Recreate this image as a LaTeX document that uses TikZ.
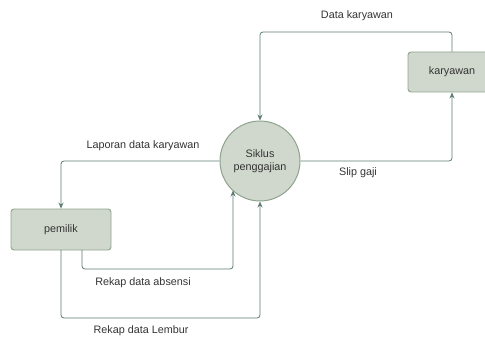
\documentclass[tikz,border=0pt]{standalone}
\usepackage{fontspec}
\setmainfont{Liberation Sans}
\usetikzlibrary{arrows.meta}
\definecolor{boxfill}{HTML}{D0D8CD}
\definecolor{boxline}{HTML}{8FA38E}
\definecolor{flow}{HTML}{5E7B73}
\definecolor{txt}{HTML}{333333}
\tikzset{
  entity/.style={draw=boxline, fill=boxfill, rounded corners=3pt, line width=0.9pt,
    minimum width=100pt, minimum height=41pt, inner sep=0pt, text=txt, font=\fontsize{10.8}{13}\selectfont},
  process/.style={circle, draw=boxline, fill=boxfill, line width=1pt, minimum size=80pt,
    inner sep=0pt, align=center, text=txt, font=\fontsize{10.8}{13}\selectfont},
  flowline/.style={draw=flow, line width=0.8pt, rounded corners=3pt, -{Stealth[length=6pt,width=5pt]}},
  lbl/.style={text=txt, font=\fontsize{10.8}{13}\selectfont, inner sep=0pt}
}
\begin{document}
\begin{tikzpicture}[x=1pt, y=-1pt]
\useasboundingbox (0,0) rectangle (485,337);
\node[process] (proc) at (260,161) {Siklus\\penggajian};
\node[entity] (own) at (61,229.5) {pemilik};
\node[entity, minimum width=88pt, minimum height=40pt] (emp) at (452,72) {karyawan};

\coordinate (d1) at (452,32);
\coordinate (d2) at (260,32);
\draw[flowline] (emp.north) -- (d1) -- (d2) -- (proc.north);
\node[lbl] (ldata) at (357,16) {Data karyawan};

\coordinate (s1) at (452,161);
\draw[flowline] (proc.east) -- (s1) -- (emp.south);
\node[lbl] (lslip) at (358,173) {Slip gaji};

\coordinate (l1) at (61,161);
\draw[flowline] (proc.west) -- (l1) -- (own.north);
\node[lbl] (llap) at (143,146) {Laporan data karyawan};

\coordinate (a0) at (82,250);
\coordinate (a1) at (82,269);
\coordinate (a2) at (233,269);
\coordinate (a3) at (233,190.5);
\draw[flowline] (a0) -- (a1) -- (a2) -- (a3);
\node[lbl] (labs) at (143,283) {Rekap data absensi};

\coordinate (b0) at (61,250);
\coordinate (b1) at (61,318);
\coordinate (b2) at (260,318);
\draw[flowline] (b0) -- (b1) -- (b2) -- (proc.south);
\node[lbl] (llem) at (141,331) {Rekap data Lembur};
\end{tikzpicture}
\end{document}
